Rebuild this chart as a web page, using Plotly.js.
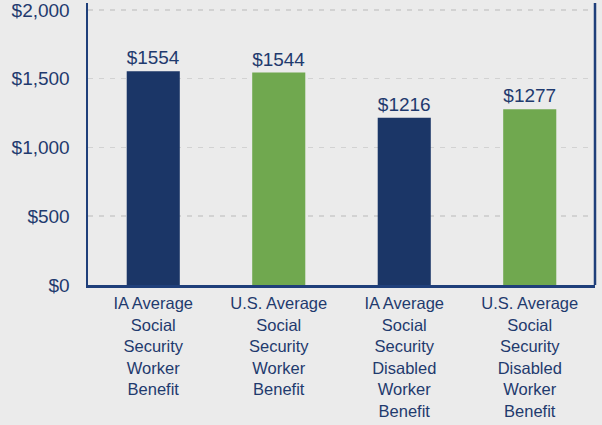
<!DOCTYPE html>
<html>
<head>
<meta charset="utf-8">
<script src="https://cdn.plot.ly/plotly-3.0.1.min.js"></script>
<style>html,body{margin:0;padding:0;background:#ebebeb;}#chart{width:602px;height:425px;}</style>
</head>
<body>
<div id="chart"></div>
<script>
const categories = [
  "IA Average<br>Social<br>Security<br>Worker<br>Benefit",
  "U.S. Average<br>Social<br>Security<br>Worker<br>Benefit",
  "IA Average<br>Social<br>Security<br>Disabled<br>Worker<br>Benefit",
  "U.S. Average<br>Social<br>Security<br>Disabled<br>Worker<br>Benefit"
];
const values = [1554, 1544, 1216, 1277];
const valueLabels = ["$1554", "$1544", "$1216", "$1277"];
const barColors = ["#1b3667", "#70a84f", "#1b3667", "#70a84f"];
const yTickVals = [0, 500, 1000, 1500, 2000];
const yTickText = ["$0", "$500", "$1,000", "$1,500", "$2,000"];

const navy = "#1f3a6e";
const fontFam = "Liberation Sans, Arial, sans-serif";

const trace = {
  type: "bar",
  x: categories,
  y: values,
  text: valueLabels,
  textposition: "outside",
  cliponaxis: false,
  textfont: {family: fontFam, size: 19, color: navy},
  marker: {color: barColors, line: {width: 0}},
  hoverinfo: "none"
};

const layout = {
  width: 602,
  height: 425,
  margin: {l: 88, r: 7, t: 3, b: 140},
  paper_bgcolor: "#ebebeb",
  plot_bgcolor: "#ebebeb",
  showlegend: false,
  bargap: 0.577,
  font: {family: fontFam, color: navy},
  xaxis: {
    type: "category",
    range: [-0.52, 3.52],
    showline: true,
    linecolor: "#1f3f7a",
    linewidth: 2.5,
    showgrid: false,
    ticks: "",
    tickfont: {family: fontFam, size: 16.5, color: navy},
    ticklabelstandoff: 2,
    fixedrange: true
  },
  yaxis: {
    range: [0, 2050],
    tickvals: yTickVals,
    ticktext: yTickText,
    ticklabeloverflow: "allow",
    showline: true,
    linecolor: "#1f3f7a",
    linewidth: 2.5,
    showgrid: true,
    gridcolor: "#d2d2d2",
    gridwidth: 1.5,
    griddash: "5px,6px",
    zeroline: false,
    ticks: "",
    ticklabelstandoff: 12,
    tickfont: {family: fontFam, size: 19, color: navy},
    fixedrange: true
  },
  shapes: [{
    type: "line", xref: "paper", yref: "paper",
    x0: 1, x1: 1, y0: 0, y1: 1,
    line: {color: "#1f3f7a", width: 2.5}
  }]
};

Plotly.newPlot("chart", [trace], layout, {staticPlot: true, displayModeBar: false});
</script>
</body>
</html>
